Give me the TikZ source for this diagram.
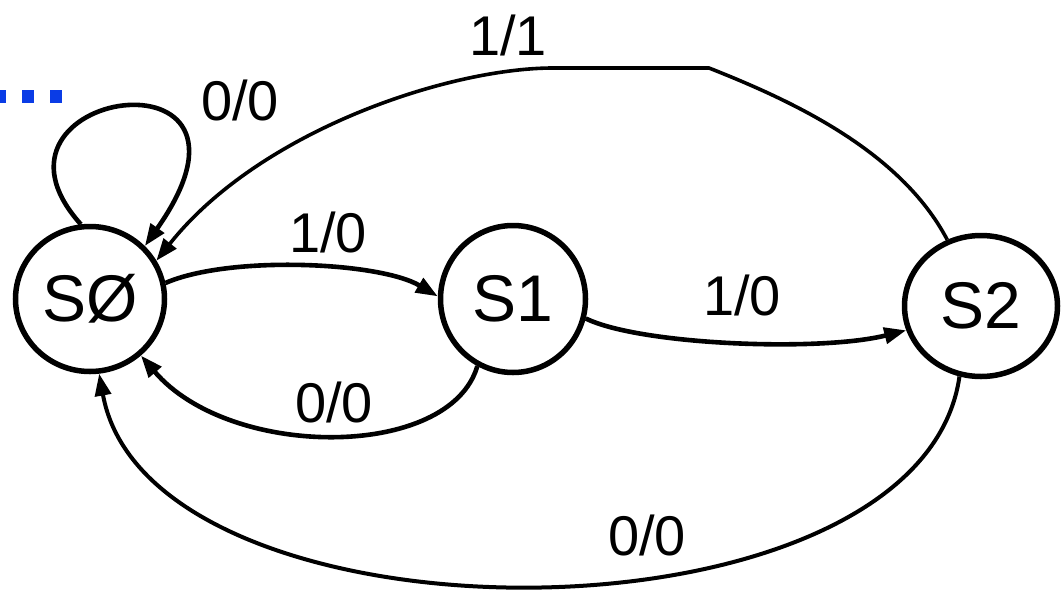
\documentclass[tikz,border=0pt]{standalone}
\usepackage{fontspec}
\setmainfont{Liberation Sans}
\usetikzlibrary{arrows.meta,shapes.geometric}
\definecolor{dotblue}{RGB}{10,60,230}
\begin{document}
\begin{tikzpicture}[x=1pt,y=-1pt,
  state/.style={draw, ellipse, line width=5.5pt, inner sep=0pt, font=\fontsize{66}{70}\selectfont},
  edge/.style={line width=4.6pt, -{Triangle[length=22pt,width=16pt]}},
  lbl/.style={font=\fontsize{56}{60}\selectfont, inner sep=0pt},
  dots/.style={draw=dotblue, line width=13pt, dash pattern=on 12pt off 16pt}]
\fill[white] (0,0) rectangle (1063,592);
\useasboundingbox (0,0) rectangle (1063,592);
\node[state, minimum width=149pt, minimum height=145pt] (s0) at (90,299) {SØ};
\node[state, minimum width=145pt, minimum height=147pt] (s1) at (513,299) {S1};
\node[state, minimum width=153pt, minimum height=141pt] (s2) at (981,306) {S2};
% self loop
\draw[edge] (s0.97) .. controls (-40,90) and (290,40) .. (s0.44);
% S0 -> S1
\draw[edge] (s0.12) .. controls (230,255) and (380,262) .. (s1.178);
% S1 -> S2
\draw[edge] (s1.-15) .. controls (640,345) and (820,352) .. (s2.198);
% S1 -> S0
\draw[edge] (s1.242) .. controls (450,460) and (230,460) .. (s0.-48);
% S2 -> S0 bottom
\draw[edge, line width=4pt] (s2.253) .. controls (920,655) and (150,655) .. (s0.-83);
% S2 -> S0 top
\coordinate (tr) at (709,68);
\coordinate (tl) at (553,68);
\draw[edge, line width=3.6pt] (s2.117) .. controls (900,150) and (790,100) .. (tr) -- (tl) .. controls (450,68) and (260,130) .. (s0.30);
% labels
\node[lbl] (l00a) at (240,100) {0/0};
\node[lbl] (l10a) at (328,232) {1/0};
\node[lbl] (l10b) at (742,295) {1/0};
\node[lbl] (l00b) at (334,402) {0/0};
\node[lbl] (l00c) at (647,535) {0/0};
\node[lbl] (l11) at (508,35) {1/1};
% blue dots
\coordinate (d0) at (-6,96);
\coordinate (d1) at (70,96);
\draw[dots] (d0) -- (d1);
\end{tikzpicture}
\end{document}
